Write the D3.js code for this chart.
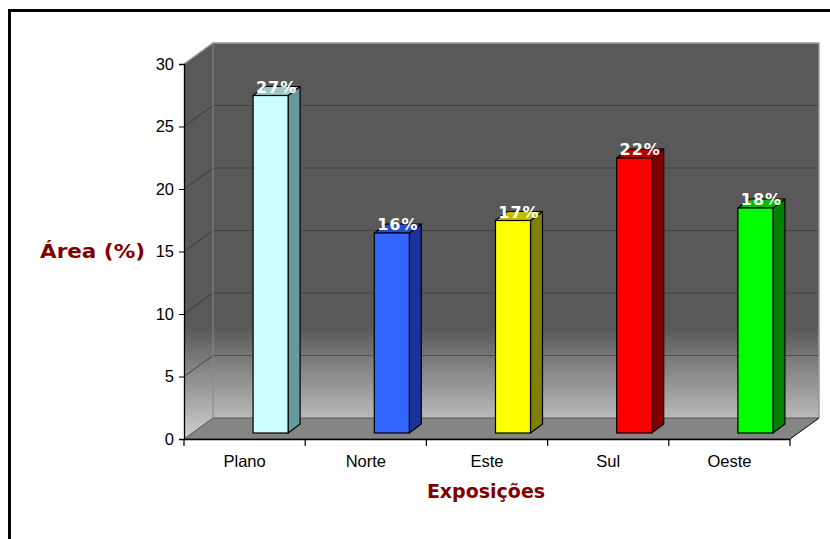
<!DOCTYPE html>
<html>
<head>
<meta charset="utf-8">
<script src="https://cdn.jsdelivr.net/npm/d3@7"></script>
<style>
  html, body { margin: 0; padding: 0; background: #fff; }
  svg { display: block; }
</style>
</head>
<body>
<div id="chart"></div>
<script>
const categories = ['Plano', 'Norte', 'Este', 'Sul', 'Oeste'];
const values = [27, 16, 17, 22, 18];
const valueLabels = ['27%', '16%', '17%', '22%', '18%'];
const yTicks = [0, 5, 10, 15, 20, 25, 30];
const frontColors = ['#ccffff', '#3366ff', '#ffff00', '#ff0000', '#00ff00'];
const sideColors = ['#669999', '#1a3399', '#808000', '#800000', '#008000'];
const topColors = ['#99cccc', '#264dcc', '#bfbf00', '#bf0000', '#00bf00'];

const W = 830, H = 539;
const DX = 29, DY = 21;      // wall depth
const BDX = 12, BDY = 9;     // bar depth
const BAR_W = 35;

const svg = d3.select('#chart').append('svg')
  .attr('width', W).attr('height', H);

// outer frame (runs past the window on right/bottom)
svg.append('rect')
  .attr('x', 9.5).attr('y', 10.5)
  .attr('width', 840).attr('height', 560)
  .attr('fill', 'none').attr('stroke', '#000').attr('stroke-width', 3);

const x = d3.scaleBand().domain(categories).range([184, 790]).padding(0);
const y = d3.scaleLinear().domain([0, 30]).range([439, 64]);

const defs = svg.append('defs');
const grad = defs.append('linearGradient')
  .attr('id', 'wallGrad')
  .attr('gradientUnits', 'userSpaceOnUse')
  .attr('x1', 0).attr('y1', y(30) - DY).attr('x2', 0).attr('y2', y(0));
grad.append('stop').attr('offset', 0).attr('stop-color', '#595959');
grad.append('stop').attr('offset', 0.72).attr('stop-color', '#595959');
grad.append('stop').attr('offset', 1).attr('stop-color', '#d0d0d0');

const x0 = x.range()[0], x1 = x.range()[1];
const yTop = y(30), yBot = y(0);

// back wall
svg.append('rect')
  .attr('x', x0 + DX).attr('y', yTop - DY)
  .attr('width', x1 - x0).attr('height', yBot - yTop)
  .attr('fill', 'url(#wallGrad)');

// side wall
svg.append('path')
  .attr('d', `M${x0},${yTop}L${x0 + DX},${yTop - DY}L${x0 + DX},${yBot - DY}L${x0},${yBot}Z`)
  .attr('fill', 'url(#wallGrad)');

// gridlines
const grid = svg.append('g');
yTicks.filter(t => t > 0 && t < 30).forEach(t => {
  grid.append('path')
    .attr('d', `M${x0},${y(t)}L${x0 + DX},${y(t) - DY}L${x1 + DX},${y(t) - DY}`)
    .attr('fill', 'none')
    .attr('stroke', '#333').attr('stroke-opacity', 0.6)
    .attr('stroke-width', 1.2);
});

// wall edges
svg.append('path')
  .attr('d', `M${x0},${yTop}L${x0 + DX},${yTop - DY}L${x1 + DX},${yTop - DY}L${x1 + DX},${yBot - DY}`)
  .attr('fill', 'none').attr('stroke', '#999').attr('stroke-width', 1.5);
svg.append('line')
  .attr('x1', x0 + DX).attr('y1', yTop - DY).attr('x2', x0 + DX).attr('y2', yBot - DY)
  .attr('stroke', '#888').attr('stroke-width', 1);

// floor
svg.append('path')
  .attr('d', `M${x0},${yBot}L${x0 + DX},${yBot - DY}L${x1 + DX},${yBot - DY}L${x1},${yBot}Z`)
  .attr('fill', '#858585').attr('stroke', '#555').attr('stroke-width', 1);

// bars
const bars = svg.append('g').selectAll('g')
  .data(categories.map((c, i) => ({ c, v: values[i], i })))
  .join('g');

const base = yBot - 6;
bars.each(function (d) {
  const g = d3.select(this);
  const bx = x(d.c) + x.bandwidth() / 2 + 8.5;
  const ty = y(d.v) - 6;
  // side
  g.append('path')
    .attr('d', `M${bx + BAR_W},${ty}L${bx + BAR_W + BDX},${ty - BDY}L${bx + BAR_W + BDX},${base - BDY}L${bx + BAR_W},${base}Z`)
    .attr('fill', sideColors[d.i]).attr('stroke', '#000').attr('stroke-width', 1.2)
    .attr('stroke-linejoin', 'round');
  // top
  g.append('path')
    .attr('d', `M${bx},${ty}L${bx + BDX},${ty - BDY}L${bx + BAR_W + BDX},${ty - BDY}L${bx + BAR_W},${ty}Z`)
    .attr('fill', topColors[d.i]).attr('stroke', '#000').attr('stroke-width', 1.2)
    .attr('stroke-linejoin', 'round');
  // front
  g.append('rect')
    .attr('x', bx).attr('y', ty)
    .attr('width', BAR_W).attr('height', base - ty)
    .attr('fill', frontColors[d.i]).attr('stroke', '#000').attr('stroke-width', 1.2);
  // value label
  g.append('text')
    .attr('x', bx + (BAR_W + BDX) / 2)
    .attr('y', ty - 3)
    .attr('text-anchor', 'middle')
    .attr('font-family', 'DejaVu Sans, Verdana, sans-serif')
    .attr('font-weight', 'bold')
    .attr('font-size', 16)
    .attr('letter-spacing', 1)
    .attr('fill', '#fff')
    .text(valueLabels[d.i]);
});

// axes
const yAxis = d3.axisLeft(y).tickValues(yTicks).tickSize(5).tickPadding(5);
svg.append('g')
  .attr('transform', `translate(${x0},0)`)
  .call(yAxis)
  .call(g => g.select('.domain').attr('stroke-width', 1.3))
  .call(g => g.selectAll('text')
    .attr('font-family', 'Liberation Sans, Arial, sans-serif')
    .attr('font-size', 16.5).attr('fill', '#000'));

const xAxis = d3.axisBottom(x).tickSize(0).tickPadding(16);
const xg = svg.append('g')
  .attr('transform', `translate(0,${yBot})`)
  .call(xAxis)
  .call(g => g.select('.domain').attr('stroke-width', 1.3))
  .call(g => g.selectAll('text')
    .attr('font-family', 'Liberation Sans, Arial, sans-serif')
    .attr('font-size', 16.5).attr('fill', '#000'));
// category boundary ticks
xg.selectAll('.bound')
  .data(d3.range(categories.length + 1))
  .join('line')
  .attr('class', 'bound')
  .attr('x1', i => x0 + i * x.bandwidth()).attr('x2', i => x0 + i * x.bandwidth())
  .attr('y1', 0).attr('y2', 7)
  .attr('stroke', '#000').attr('stroke-width', 1.2);

// floor right diagonal edge
svg.append('line')
  .attr('x1', x1).attr('y1', yBot).attr('x2', x1 + DX).attr('y2', yBot - DY)
  .attr('stroke', '#222').attr('stroke-width', 1);

// axis titles
svg.append('text')
  .attr('x', 40).attr('y', 258)
  .attr('font-family', 'DejaVu Sans, Verdana, sans-serif')
  .attr('font-weight', 'bold').attr('font-size', 19)
  .attr('textLength', 105).attr('lengthAdjust', 'spacingAndGlyphs')
  .attr('fill', '#800000')
  .text('Área (%)');

svg.append('text')
  .attr('x', 486).attr('y', 498)
  .attr('text-anchor', 'middle')
  .attr('font-family', 'DejaVu Sans, Verdana, sans-serif')
  .attr('font-weight', 'bold').attr('font-size', 19)
  .attr('fill', '#800000')
  .text('Exposições');
</script>
</body>
</html>
